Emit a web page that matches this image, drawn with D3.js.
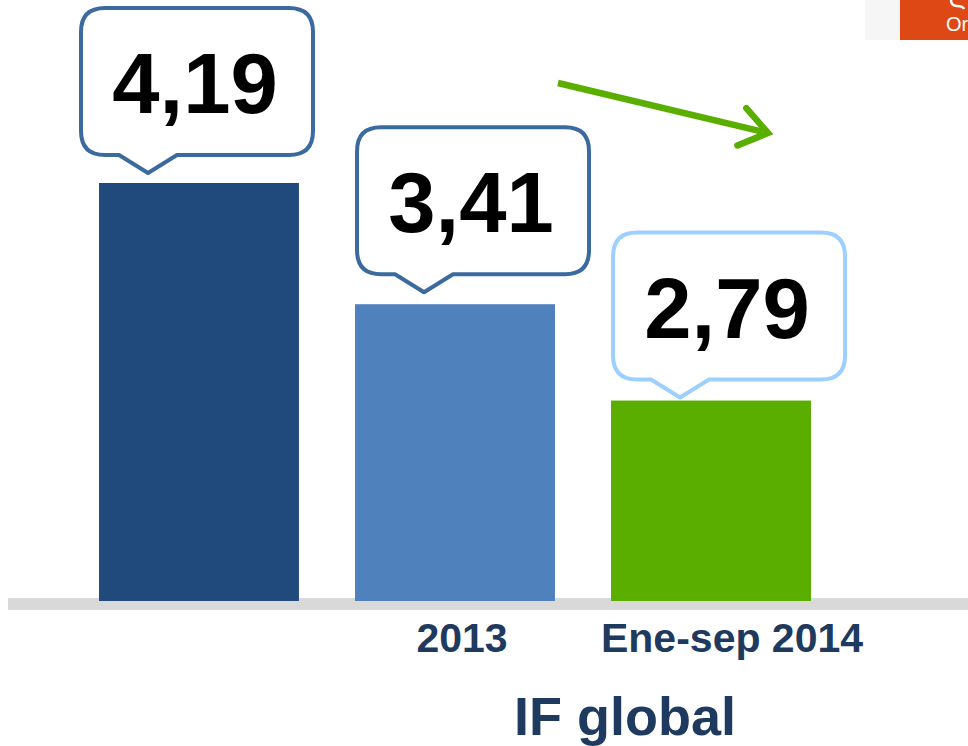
<!DOCTYPE html>
<html>
<head>
    <meta charset="utf-8">
    <script src="https://d3js.org/d3.v7.min.js"></script>
    <style>
        body { margin: 0; background: #fff; }
        svg { display: block; }
    </style>
</head>
<body>
    <svg id="chart" width="968" height="746"></svg>
    <script>
        // data
        var categories = ["", "2013", "Ene-sep 2014"];
        var values = [4.19, 3.41, 2.79];
        var valueLabels = ["4,19", "3,41", "2,79"];
        var title = "IF global";

        var barColors = ["#214a7c", "#4f81bd", "#5aae00"];
        var boxStroke = ["#3b6a9e", "#3b6a9e", "#9dcfff"];
        // callout placement tweaks relative to its bar (left edge / top)
        var boxShift = [{ dx: -18, dy: -28, tip: 49 }, { dx: 2, dy: -30, tip: 69 }, { dx: 2, dy: -21, tip: 69 }];
        var labelShift = [0, 7, 21];

        var svg = d3.select("#chart");
        var font = "'Liberation Sans', Arial, sans-serif";

        var x = d3.scaleBand()
            .domain(categories)
            .range([99, 811])
            .paddingInner(0.219)
            .paddingOuter(0);

        var y = d3.scaleLinear()
            .domain([1.5, 4.19])
            .range([601, 183]);

        // corner logo piece (cut off by the frame)
        svg.append("rect").attr("x", 865).attr("y", 0).attr("width", 35).attr("height", 40).attr("fill", "#f6f6f6");
        svg.append("rect").attr("x", 900).attr("y", 0).attr("width", 68).attr("height", 40).attr("fill", "#dd4814");
        svg.append("path")
            .attr("d", "M951,0 Q951,6 957,6 Q963,6 964,9")
            .attr("stroke", "#fff").attr("stroke-width", 2.5).attr("fill", "none");
        svg.append("text").attr("x", 946).attr("y", 31)
            .attr("font-family", font).attr("font-size", 20).attr("fill", "#fff").text("Or");

        // baseline
        svg.append("rect")
            .attr("x", 8).attr("y", 598)
            .attr("width", 960).attr("height", 12)
            .attr("fill", "#d9d9d9");

        // bars
        svg.selectAll(".bar")
            .data(values)
            .enter()
            .append("rect")
            .attr("class", "bar")
            .attr("x", (d, i) => x(categories[i]))
            .attr("y", d => y(d))
            .attr("width", x.bandwidth())
            .attr("height", d => y.range()[0] - y(d))
            .attr("fill", (d, i) => barColors[i]);

        // callouts
        var bw = 232, bh = 147, r = 24, pw = 58, pd = 18;
        function calloutPath(left, top, tipX) {
            var bottom = top + bh, right = left + bw;
            var p = d3.path();
            p.moveTo(left + r, top);
            p.lineTo(right - r, top);
            p.quadraticCurveTo(right, top, right, top + r);
            p.lineTo(right, bottom - r);
            p.quadraticCurveTo(right, bottom, right - r, bottom);
            p.lineTo(tipX + pw / 2, bottom);
            p.lineTo(tipX, bottom + pd);
            p.lineTo(tipX - pw / 2, bottom);
            p.lineTo(left + r, bottom);
            p.quadraticCurveTo(left, bottom, left, bottom - r);
            p.lineTo(left, top + r);
            p.quadraticCurveTo(left, top, left + r, top);
            p.closePath();
            return p.toString();
        }

        var callouts = svg.selectAll(".callout")
            .data(values)
            .enter()
            .append("g")
            .attr("class", "callout");

        callouts.append("path")
            .attr("d", (d, i) => {
                var left = x(categories[i]) + boxShift[i].dx;
                var top = y(d) + boxShift[i].dy - bh;
                return calloutPath(left, top, x(categories[i]) + boxShift[i].tip);
            })
            .attr("fill", "#fff")
            .attr("stroke", (d, i) => boxStroke[i])
            .attr("stroke-width", 4)
            .attr("stroke-linejoin", "round");

        callouts.append("text")
            .attr("x", (d, i) => x(categories[i]) + boxShift[i].dx + 114)
            .attr("y", (d, i) => y(d) + boxShift[i].dy - bh + 105)
            .attr("text-anchor", "middle")
            .attr("font-family", font)
            .attr("font-weight", "bold")
            .attr("font-size", 85)
            .attr("fill", "#000")
            .text((d, i) => valueLabels[i]);

        // trend arrow
        var ax0 = x(categories[1]) + x.bandwidth() + 3, ax1 = x(categories[2]) + x.bandwidth() - 43;
        var ay0 = 83, ay1 = 133;
        var ang = Math.atan2(ay1 - ay0, ax1 - ax0);
        var head = 33, spread = 0.62;
        var arrow = svg.append("g")
            .attr("stroke", "#5aae00")
            .attr("stroke-width", 6.5)
            .attr("stroke-linecap", "round")
            .attr("fill", "none");
        arrow.append("line").attr("x1", ax0).attr("y1", ay0).attr("x2", ax1 - 6 * Math.cos(ang)).attr("y2", ay1 - 6 * Math.sin(ang))
            .attr("stroke-linecap", "butt");
        arrow.append("polyline")
            .attr("points", [
                [ax1 - head * Math.cos(ang - spread), ay1 - head * Math.sin(ang - spread)],
                [ax1, ay1],
                [ax1 - head * Math.cos(ang + spread), ay1 - head * Math.sin(ang + spread)]
            ].map(p => p.join(",")).join(" "))
            .attr("stroke-linejoin", "miter");

        // x axis labels
        var xAxis = d3.axisBottom(x).tickSize(0).tickPadding(0);
        var gx = svg.append("g")
            .attr("transform", "translate(0,652)")
            .call(xAxis);
        gx.select(".domain").remove();
        gx.selectAll("text")
            .attr("dy", 0)
            .attr("dx", (d, i) => labelShift[i])
            .attr("font-family", font)
            .attr("font-weight", "bold")
            .attr("font-size", 41)
            .attr("fill", "#1f3a5f");

        svg.append("text")
            .attr("x", 625)
            .attr("y", 735)
            .attr("text-anchor", "middle")
            .attr("font-family", font)
            .attr("font-weight", "bold")
            .attr("font-size", 54)
            .attr("fill", "#1f3a5f")
            .text(title);
    </script>
</body>
</html>
